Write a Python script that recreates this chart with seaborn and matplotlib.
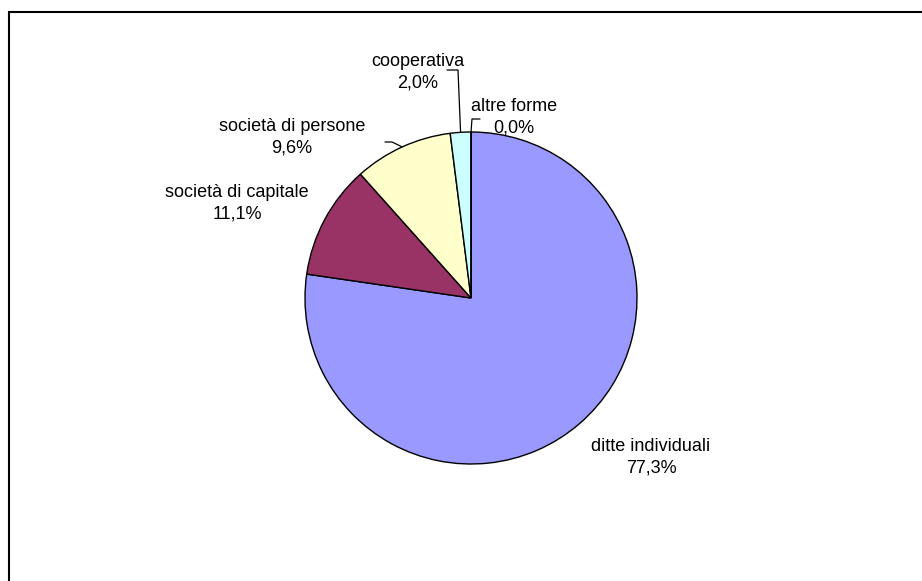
import numpy as np
import seaborn as sns
import matplotlib.pyplot as plt

# forma giuridica delle imprese
categories = ['ditte individuali', 'società di capitale', 'società di persone',
              'cooperativa', 'altre forme']
shares = [77.3, 11.1, 9.6, 2.0, 0.0]
pct_labels = ['77,3%', '11,1%', '9,6%', '2,0%', '0,0%']

colors = ['#9999FF', '#993366', '#FFFFCC', '#CCFFFF', '#660066']

sns.set_style('white')
plt.rcParams['font.family'] = ['Liberation Sans', 'DejaVu Sans']

W, H = 922, 581
fig = plt.figure(figsize=(W / 100, H / 100), dpi=100)
ax = fig.add_axes([0, 0, 1, 1])

cx, cy, R = 471, H - 298, 166
wedges, _ = ax.pie(shares, colors=colors, startangle=90, counterclock=False,
                   center=(cx, cy), radius=R,
                   wedgeprops=dict(edgecolor='black', linewidth=1))
ax.set_xlim(0, W)
ax.set_ylim(0, H)
ax.axis('off')

# label block centres (pixel coords, y from top)
label_pos = [(651, 457), (237, 203), (292, 137), (418, 72), (514, 117)]
# leader lines: (elbow, end) pixel coords, None = no line
leaders = [None, None, ((392, 142), (385, 142)), ((458, 70), (447, 70)),
           ((472, 119), (480, 119))]

for w, cat, pct, (lx, ly), ld in zip(wedges, categories, pct_labels,
                                      label_pos, leaders):
    ax.text(lx, H - ly, f'{cat}\n{pct}', ha='center', va='center',
            fontsize=13, linespacing=1.35, color='black')
    if ld is not None:
        mid = np.deg2rad((w.theta1 + w.theta2) / 2)
        ax_, ay_ = cx + R * np.cos(mid), cy + R * np.sin(mid)
        (ex, ey), (tx, ty) = ld
        ax.plot([ax_, ex, tx], [ay_, H - ey, H - ty], color='black', lw=0.9)

# chart area border (only top and left visible)
ax.plot([9, 9, W], [0, H - 12, H - 12], color='black', lw=1.5,
        solid_joinstyle='miter')

fig.savefig('out.png', dpi=100)
